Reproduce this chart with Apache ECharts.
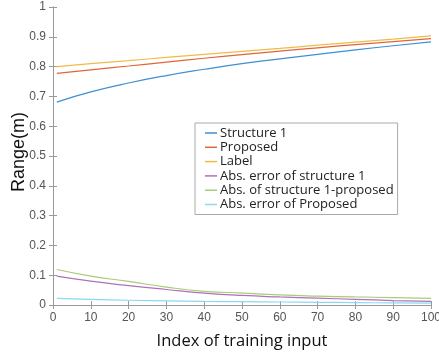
<!DOCTYPE html>
<html><head><meta charset="utf-8">
<script src="https://cdn.jsdelivr.net/npm/echarts@6/dist/echarts.min.js"></script>
<style>html,body{margin:0;padding:0;background:#fff}#c{width:439px;height:356px}</style>
</head><body><div id="c"></div>
<script>
const xIndex = [1, 10, 20, 30, 40, 50, 60, 70, 80, 90, 100];
const structure1 = [0.681, 0.715, 0.745, 0.770, 0.791, 0.810, 0.826, 0.841, 0.856, 0.870, 0.883];
const proposed = [0.777, 0.789, 0.802, 0.815, 0.828, 0.840, 0.852, 0.863, 0.874, 0.884, 0.894];
const label = [0.800, 0.810, 0.820, 0.831, 0.841, 0.851, 0.861, 0.872, 0.882, 0.892, 0.903];
const absErrS1 = [0.097, 0.080, 0.065, 0.052, 0.040, 0.032, 0.027, 0.023, 0.019, 0.015, 0.012];
const absS1Prop = [0.119, 0.097, 0.079, 0.060, 0.046, 0.040, 0.034, 0.030, 0.027, 0.025, 0.022];
const absErrProp = [0.022, 0.019, 0.016, 0.014, 0.012, 0.011, 0.010, 0.009, 0.008, 0.007, 0.006];
const seriesNames = ['Structure 1', 'Proposed', 'Label', 'Abs. error of structure 1', 'Abs. of structure 1-proposed', 'Abs. error of Proposed'];
const xTicks = [0, 10, 20, 30, 40, 50, 60, 70, 80, 90, 100];
const yTicks = [0, 0.1, 0.2, 0.3, 0.4, 0.5, 0.6, 0.7, 0.8, 0.9, 1];

const colors = ['#3f8fd2', '#e0663a', '#f0bc48', '#b070bc', '#a8cc78', '#8ad8f2'];
const allData = [structure1, proposed, label, absErrS1, absS1Prop, absErrProp];

const chart = echarts.init(document.getElementById('c'));
const axisLine = {show: true, lineStyle: {color: '#9a9a9a', width: 1}};
const tick = {show: true, inside: true, length: 4, lineStyle: {color: '#9a9a9a'}};
const lbl = {color: '#555', fontSize: 12, fontFamily: 'Liberation Sans, Arial'};
chart.setOption({
  animation: false,
  grid: {left: 53, right: 8, top: 7, bottom: 51, containLabel: false, outerBoundsMode: 'none'},
  xAxis: [
    {type: 'value', min: 0, max: 100, interval: 10, position: 'bottom',
     axisLine, axisTick: tick, splitLine: {show: false},
     axisLabel: Object.assign({margin: 7, formatter: v => xTicks.includes(v) ? String(v) : ''}, lbl),
     name: 'Index of training input', nameLocation: 'middle', nameGap: 28,
     nameTextStyle: {fontSize: 16.5, color: '#111', fontFamily: 'Open Sans, Noto Sans'}},
    {type: 'value', min: 0, max: 100, interval: 10, position: 'top',
     axisLine, axisTick: tick, splitLine: {show: false}, axisLabel: {show: false}}
  ],
  yAxis: [
    {type: 'value', min: 0, max: 1, interval: 0.1, position: 'left',
     axisLine, axisTick: tick, splitLine: {show: false},
     axisLabel: Object.assign({margin: 7, formatter: v => yTicks.includes(+v.toFixed(1)) ? String(+v.toFixed(1)) : ''}, lbl),
     name: 'Range(m)', nameLocation: 'middle', nameGap: 25, nameMoveOverlap: false,
     nameTextStyle: {fontSize: 18, color: '#111', fontFamily: 'Liberation Sans, Arial', padding: [0, 0, 0, 8]}},
    {type: 'value', min: 0, max: 1, interval: 0.1, position: 'right',
     axisLine, axisTick: tick, splitLine: {show: false}, axisLabel: {show: false}}
  ],
  legend: {
    orient: 'vertical', left: 195, top: 123,
    data: seriesNames,
    icon: 'rect', itemWidth: 12, itemHeight: 1.5, itemGap: 0.3,
    padding: [3, 4, 3, 10],
    borderColor: '#aaa', borderWidth: 1, backgroundColor: '#fff',
    textStyle: {fontSize: 13, lineHeight: 14, color: '#222', fontFamily: 'Open Sans, Noto Sans', padding: [0, 0, 0, -2]}
  },
  series: seriesNames.map((n, i) => ({
    name: n, type: 'line', smooth: true, symbol: 'none',
    data: xIndex.map((x, j) => [x, allData[i][j]]),
    lineStyle: {color: colors[i], width: 1.2}, itemStyle: {color: colors[i]}
  }))
});
</script></body></html>
